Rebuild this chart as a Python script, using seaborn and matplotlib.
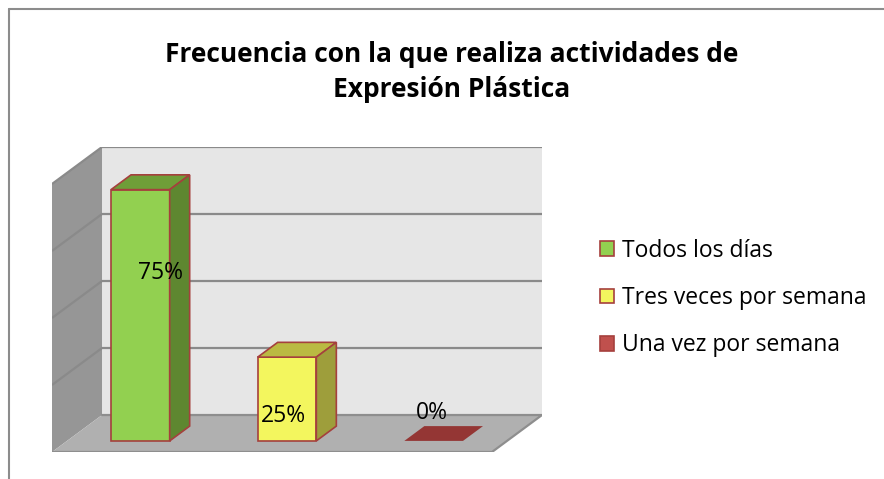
import matplotlib

matplotlib.use("Agg")
import matplotlib.pyplot as plt
import pandas as pd
import seaborn as sns
from matplotlib.lines import Line2D
from matplotlib.patches import Patch, Polygon

categories = ["Todos los días", "Tres veces por semana", "Una vez por semana"]
values = [0.75, 0.25, 0.0]
value_labels = ["75%", "25%", "0%"]
title = "Frecuencia con la que realiza actividades de\nExpresión Plástica"

front_colors = ["#92D050", "#F3F65E", "#C0504D"]
top_colors = ["#6F9E38", "#BABA42", "#943634"]
side_colors = ["#5E8730", "#9E9E3B", "#7A2C2A"]
edge = "#A5403D"

# oblique "3d" projection: depth 0..1 shifts points right/up
DX, DY = 0.341, 0.1104
YMAX = 0.8
D0, D1 = 0.3, 0.7  # bar depth range
W = 0.2  # half bar width


def p(x, y, d):
    return (x + d * DX, y + d * DY)


df = pd.DataFrame({"cat": categories, "val": values})

sns.set_theme(style="white")
plt.rcParams["font.family"] = ["Open Sans", "DejaVu Sans"]
plt.rcParams["text.color"] = "black"

fig = plt.figure(figsize=(8.84, 4.79), dpi=100)
ax = fig.add_axes([52 / 884, 27 / 479, 490 / 884, 305 / 479])

# walls and floor
ax.add_patch(Polygon([p(-0.5, 0, 1), p(2.5, 0, 1), p(2.5, YMAX, 1), p(-0.5, YMAX, 1)],
                     closed=True, fc="#E6E6E6", ec="none", zorder=0))
ax.add_patch(Polygon([p(-0.5, 0, 0), p(-0.5, 0, 1), p(-0.5, YMAX, 1), p(-0.5, YMAX, 0)],
                     closed=True, fc="#969696", ec="none", zorder=0))
grid = [0.2, 0.4, 0.6, 0.8]
for g in grid:
    xs, ys = zip(p(-0.5, g, 0), p(-0.5, g, 1), p(2.5, g, 1))
    ax.plot(xs, ys, color="#8A8A8A", lw=1.6, zorder=1, solid_capstyle="butt")
ax.add_patch(Polygon([p(-0.5, 0, 0), p(2.5, 0, 0), p(2.5, 0, 1), p(-0.5, 0, 1)],
                     closed=True, fc="#B0B0B0", ec="none", zorder=2))
xs, ys = zip(p(-0.5, 0, 1), p(2.5, 0, 1), p(2.5, 0, 0), p(-0.5, 0, 0))
ax.plot(xs, ys, color="#8E8E8E", lw=1.6, zorder=2)

# bar fronts
sns.barplot(data=df, x="cat", y="val", hue="cat", palette=front_colors, saturation=1,
            width=2 * W, ax=ax, legend=False, edgecolor=edge, linewidth=1.2, zorder=4)
for cont in ax.containers:
    for bar in cont:
        bar.set_x(bar.get_x() + D0 * DX)
        bar.set_y(D0 * DY)
        bar.set_zorder(4)
        if bar.get_height() == 0:
            bar.set_visible(False)
ax.set_xlim(-0.5, 2.5 + DX)
ax.set_ylim(0, YMAX + DY)
ax.axis("off")

for i, v in enumerate(values):
    top = [p(i - W, v, D0), p(i + W, v, D0), p(i + W, v, D1), p(i - W, v, D1)]
    ax.add_patch(Polygon(top, closed=True, fc=top_colors[i],
                         ec=edge if v > 0 else "none", lw=1.2, zorder=4))
    if v > 0:
        side = [p(i + W, 0, D0), p(i + W, v, D0), p(i + W, v, D1), p(i + W, 0, D1)]
        ax.add_patch(Polygon(side, closed=True, fc=side_colors[i], ec=edge, lw=1.2, zorder=4))

label_pos = [(0.24, 0.535), (1.08, 0.107), (2.09, 0.116)]
for (lx, ly), txt in zip(label_pos, value_labels):
    ax.text(lx, ly, txt, ha="center", va="center", fontsize=16.5, color="black", zorder=6)

# legend
handles = [Patch(facecolor=c, edgecolor=edge, linewidth=1.2) for c in front_colors]
fig.legend(handles, categories, loc="center left", bbox_to_anchor=(600 / 884, 1 - 298 / 479),
           frameon=False, fontsize=16.5, handlelength=0.62, handleheight=0.62,
           handletextpad=0.35, labelspacing=1.02, borderaxespad=0, borderpad=0)

fig.text(452 / 884, 1 - 72 / 479, title, ha="center", va="center",
         fontsize=19, fontweight="bold", linespacing=1.42)

# chart border (left and top only visible)
fig.add_artist(Line2D([9 / 884, 9 / 884], [0, 1 - 9 / 479], color="#8C8C8C", lw=1.5))
fig.add_artist(Line2D([9 / 884, 1], [1 - 9 / 479, 1 - 9 / 479], color="#8C8C8C", lw=1.5))

fig.savefig("out.png", dpi=100)
